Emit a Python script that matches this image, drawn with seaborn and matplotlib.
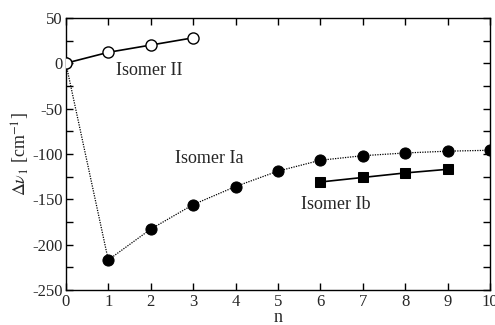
import matplotlib
matplotlib.use("Agg")
import matplotlib.pyplot as plt
import seaborn as sns
import pandas as pd
from matplotlib.ticker import MultipleLocator

sns.set_style("ticks")
plt.rcParams['font.family'] = ['Liberation Serif', 'DejaVu Serif']
plt.rcParams['mathtext.fontset'] = 'stix'
plt.rcParams['axes.unicode_minus'] = False

n_II = [0, 1, 2, 3]
dv_II = [0, 12, 20, 28]
n_Ia = [0, 1, 2, 3, 4, 5, 6, 7, 8, 9, 10]
dv_Ia = [0, -217, -183, -156, -136, -119, -107, -102, -99, -97, -96]
n_Ib = [6, 7, 8, 9]
dv_Ib = [-131, -126, -121, -117]
x_ticks = list(range(0, 11))
y_ticks = [50, 0, -50, -100, -150, -200, -250]

fig = plt.figure(figsize=(4.95, 3.25), dpi=100)
ax = fig.add_axes([0.133, 0.108, 0.857, 0.837])

dfIa = pd.DataFrame({"n": n_Ia, "dv": dv_Ia})
dfII = pd.DataFrame({"n": n_II, "dv": dv_II})
dfIb = pd.DataFrame({"n": n_Ib, "dv": dv_Ib})

sns.lineplot(data=dfIa, x="n", y="dv", ax=ax, color="black", linestyle=(0, (1, 1)),
             linewidth=0.9, marker="o", markersize=8, markerfacecolor="black",
             markeredgecolor="black")
sns.lineplot(data=dfII, x="n", y="dv", ax=ax, color="black", linewidth=1.2,
             marker="o", markersize=8, markerfacecolor="white",
             markeredgecolor="black", markeredgewidth=1.0, zorder=5)
sns.lineplot(data=dfIb, x="n", y="dv", ax=ax, color="black", linewidth=1.2,
             marker="s", markersize=7, markerfacecolor="black",
             markeredgecolor="black")

ax.set_xlim(0, 10)
ax.set_ylim(-250, 50)
ax.set_xticks(x_ticks)
ax.set_yticks(y_ticks)
ax.yaxis.set_minor_locator(MultipleLocator(25))
ax.tick_params(which="both", direction="in", top=True, right=True, labelsize=12,
               width=1.0, color="black")
ax.tick_params(which="major", length=5)
ax.tick_params(which="minor", length=5)
ax.tick_params(axis="y", pad=2)
ax.tick_params(axis="x", pad=3)
for s in ax.spines.values():
    s.set_linewidth(1.0)
    s.set_color("black")

ax.set_xlabel("n", fontsize=13, labelpad=-1)
ax.set_ylabel(r"$\Delta\nu_1$ [cm$^{-1}$]", fontsize=13, labelpad=0)

ax.text(1.96, -8, "Isomer II", fontsize=13, ha="center", va="center")
ax.text(3.38, -105, "Isomer Ia", fontsize=13, ha="center", va="center")
ax.text(6.37, -156, "Isomer Ib", fontsize=13, ha="center", va="center")

fig.savefig("out.png", dpi=100)
